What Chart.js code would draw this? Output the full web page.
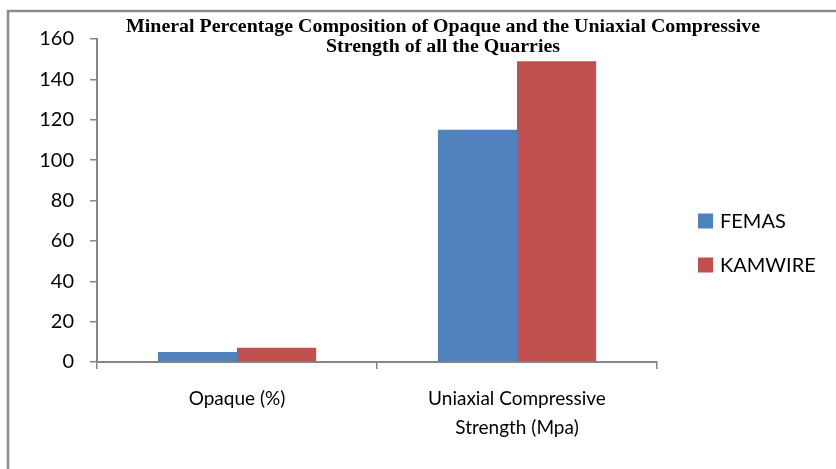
<!DOCTYPE html>
<html>
<head>
<meta charset="utf-8">
<script src="https://cdn.jsdelivr.net/npm/chart.js@4"></script>
<style>
  html, body { margin: 0; padding: 0; background: #fff; }
  #wrap { width: 836px; height: 469px; }
</style>
</head>
<body>
<div id="wrap"><canvas id="chart" width="836" height="469"></canvas></div>
<script>
const categories = [["Opaque (%)"], ["Uniaxial Compressive", "Strength (Mpa)"]];
const femas = [5, 115];
const kamwire = [7, 149];
const yTicks = [0, 20, 40, 60, 80, 100, 120, 140, 160];
const titleLines = ["Mineral Percentage Composition of Opaque and the Uniaxial Compressive", "Strength of all the Quarries"];

const axisGray = "#868686";

// frame, title and legend drawn by hand
const decor = {
  id: "decor",
  beforeDraw(chart) {
    const ctx = chart.ctx;
    ctx.save();
    ctx.fillStyle = "#fff";
    ctx.fillRect(0, 0, chart.width, chart.height);
    ctx.strokeStyle = "#8c8c8c";
    ctx.lineWidth = 2.5;
    ctx.strokeRect(8, 11, 900, 600);
    ctx.restore();
  },
  afterDraw(chart) {
    const ctx = chart.ctx;
    ctx.save();
    // title
    ctx.font = "bold 18px 'Liberation Serif'";
    ctx.fillStyle = "#000";
    ctx.textAlign = "center";
    ctx.textBaseline = "middle";
    const w = ctx.measureText(titleLines[0]).width;
    const sx = 634 / w;
    const cx = 443;
    titleLines.forEach((line, i) => {
      ctx.save();
      ctx.translate(cx, 27 + i * 20);
      ctx.scale(sx, 1);
      ctx.fillText(line, 0, 0);
      ctx.restore();
    });
    // legend
    ctx.font = "20px Lato";
    ctx.textAlign = "left";
    chart.data.datasets.forEach((ds, i) => {
      const y = 221 + i * 44;
      ctx.fillStyle = ds.backgroundColor;
      ctx.fillRect(698, y - 7.5, 15, 15);
      ctx.fillStyle = "#000";
      ctx.fillText(ds.label, 720, y + 1);
    });
    ctx.restore();
  }
};

new Chart(document.getElementById("chart"), {
  type: "bar",
  data: {
    labels: categories,
    datasets: [
      { label: "FEMAS", data: femas, backgroundColor: "#4F81BD", barPercentage: 1, categoryPercentage: 0.565 },
      { label: "KAMWIRE", data: kamwire, backgroundColor: "#C0504D", barPercentage: 1, categoryPercentage: 0.565 }
    ]
  },
  options: {
    responsive: false,
    animation: false,
    layout: { padding: { left: 0, top: 39, right: 179, bottom: 0 } },
    plugins: { legend: { display: false }, title: { display: false }, tooltip: { enabled: false } },
    scales: {
      x: {
        grid: { drawOnChartArea: false, drawTicks: true, tickLength: 7, color: axisGray, lineWidth: 1.5 },
        border: { color: axisGray, width: 2 },
        ticks: { color: "#000", font: { family: "Lato", size: 19, lineHeight: 1.55 }, padding: 15, maxRotation: 0, autoSkip: false },
        afterFit(scale) { scale.height = 107; }
      },
      y: {
        min: 0,
        max: 160,
        afterBuildTicks(scale) { scale.ticks = yTicks.map(v => ({ value: v })); },
        grid: { drawOnChartArea: false, drawTicks: true, tickLength: 7, color: axisGray, lineWidth: 1.5 },
        border: { color: axisGray, width: 2 },
        ticks: { color: "#000", font: { family: "Lato", size: 20 }, padding: 16 },
        afterFit(scale) { scale.width = 97; }
      }
    }
  },
  plugins: [decor]
});
</script>
</body>
</html>
